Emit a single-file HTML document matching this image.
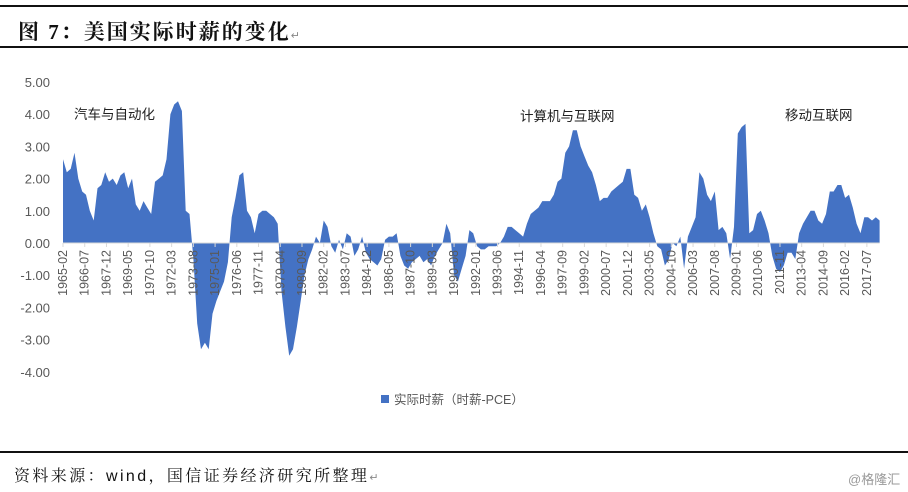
<!DOCTYPE html>
<html><head><meta charset="utf-8">
<style>
body{margin:0;width:908px;height:492px;background:#fff;overflow:hidden;position:relative;font-family:"Liberation Sans","Noto Sans CJK SC",sans-serif}
.hl{position:absolute;left:0;width:908px;height:2px;background:#111}
#title{position:absolute;left:18px;top:16px;font-size:21px;font-weight:bold;font-family:"Liberation Serif","Noto Serif CJK SC",serif;letter-spacing:2px;color:#111}
#src{position:absolute;left:14px;top:463px;font-size:16px;letter-spacing:2.4px;color:#111;font-family:"Liberation Sans","Noto Serif CJK SC",serif}
#wm{position:absolute;left:848px;top:469px;font-size:13px;color:#999}
svg{position:absolute;left:0;top:0}
</style></head><body>
<div class="hl" style="top:5px"></div>
<div id="title">图 7：美国实际时薪的变化<span style="font-size:11px;color:#888;font-weight:normal">↵</span></div>
<div class="hl" style="top:46px"></div>
<svg id="chart" width="908" height="492"></svg>
<div class="hl" style="top:451px"></div>
<div id="src">资料来源：wind，国信证券经济研究所整理<span style="font-size:11px;color:#888">↵</span></div>
<div id="wm">@格隆汇</div>
<script>
const startYear = 1965;
const values = [
2.6,2.2,2.3,2.8, 2.0,1.6,1.5,1.0, 0.7,1.7,1.8,2.2, 1.9,2.0,1.8,2.1, 2.2,1.7,2.0,1.2,
1.0,1.3,1.1,0.9, 1.9,2.0,2.1,2.6, 4.0,4.3,4.4,4.1, 1.0,0.9,-0.5,-2.5, -3.3,-3.1,-3.3,-2.2,
-1.8,-1.5,-1.2,-0.6, 0.8,1.4,2.1,2.2, 1.0,0.8,0.3,0.9, 1.0,1.0,0.9,0.8, 0.6,-1.5,-2.6,-3.5,
-3.3,-2.6,-1.8,-1.0, -0.5,-0.2,0.2,0.0, 0.7,0.5,-0.1,-0.3, 0.1,-0.2,0.3,0.2, -0.4,-0.2,0.2,-0.3,
-0.5,-0.6,-0.7,-0.5, 0.1,0.2,0.2,0.3, -0.4,-0.7,-0.8,-0.6, -0.5,-0.4,-0.6,-0.5, -0.7,-0.4,-0.2,0.0,
0.6,0.3,-1.0,-1.2, -0.8,-0.4,0.4,0.3, -0.1,-0.2,-0.2,-0.1, -0.1,-0.1,0.0,0.2, 0.5,0.5,0.4,0.3,
0.2,0.6,0.9,1.0, 1.1,1.3,1.3,1.3, 1.5,1.9,2.0,2.8, 3.0,3.5,3.5,3.0, 2.7,2.4,2.2,1.8,
1.3,1.4,1.4,1.6, 1.7,1.8,1.9,2.3, 2.3,1.5,1.4,1.0, 1.2,0.8,0.3,-0.1, -0.2,-0.7,-0.5,0.0,
-0.1,0.2,-0.8,0.2, 0.5,0.8,2.2,2.0, 1.5,1.3,1.6,0.4, 0.5,0.3,-0.5,0.5, 3.4,3.6,3.7,0.3,
0.4,0.9,1.0,0.7, 0.3,-0.4,-0.8,-0.9, -0.7,-0.3,-0.3,-0.5, 0.3,0.6,0.8,1.0, 1.0,0.7,0.6,0.9,
1.6,1.6,1.8,1.8, 1.4,1.5,1.1,0.6, 0.3,0.8,0.8,0.7, 0.8,0.7
];
const yTicks = [5,4,3,2,1,0,-1,-2,-3,-4];
const annotations = ["汽车与自动化","计算机与互联网","移动互联网"];
const annX = [74,520,785];
const annY = [119,121,120];

const NS="http://www.w3.org/2000/svg";
const svg=document.getElementById('chart');
const x0=63, pxPerMonth=1.278;
const xMonth=m=>x0+m*pxPerMonth;
const xQ=i=>xMonth(i*3);
const y=v=>243-v*32.2;
function mk(t,a){const e=document.createElementNS(NS,t);for(const k in a)e.setAttribute(k,a[k]);svg.appendChild(e);return e;}

yTicks.forEach(v=>{
  const t=mk('text',{x:50,y:y(v)+5,'text-anchor':'end','font-size':'13','fill':'#595959'});
  
  
  t.textContent=v.toFixed(2);
});
let d='M'+xQ(0)+','+y(0);
values.forEach((v,i)=>{d+=' L'+xQ(i).toFixed(1)+','+y(v).toFixed(1);});
d+=' L'+xQ(values.length-1).toFixed(1)+','+y(0)+' Z';
const area=mk('path',{d:d,fill:'#4472c4'});


const ax=mk('line',{x1:x0,x2:xQ(values.length-1),y1:y(0),y2:y(0),stroke:'#d9d9d9','stroke-width':1});


for(let m=0;m<=629;m+=17){
  const yr=1965+Math.floor((m+1)/12), mo=((m+1)%12)+1;
  const lbl=yr+'-'+String(mo).padStart(2,'0');
  const xx=xMonth(m);
  mk('line',{x1:xx,x2:xx,y1:y(0),y2:y(0)+4,stroke:'#d9d9d9'});
  const t=mk('text',{x:0,y:0,'font-size':'12.5','fill':'#595959','text-anchor':'end',transform:`translate(${xx+4},${y(0)+7}) rotate(-90)`});
  
  
  t.textContent=lbl;
}
annotations.forEach((s,i)=>{
  const t=mk('text',{x:annX[i],y:annY[i],'font-size':'13.5','fill':'#222'});
  
  
  t.textContent=s;
});
const lg=mk('rect',{x:381,y:395,width:8,height:8,fill:'#4472c4'});


const lt=mk('text',{x:394,y:404,'font-size':'12.5','fill':'#595959'});


lt.textContent='实际时薪（时薪-PCE）';
</script>
</body></html>
